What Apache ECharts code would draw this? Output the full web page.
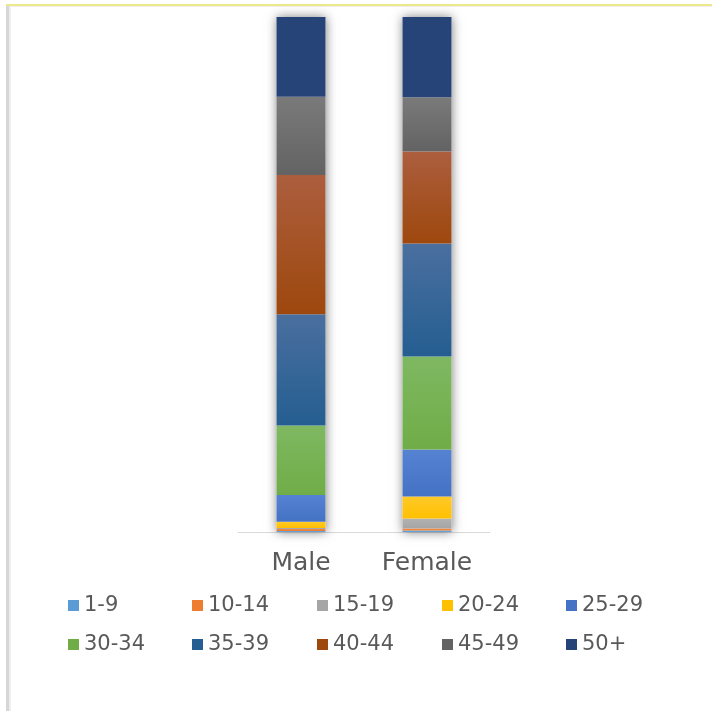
<!DOCTYPE html>
<html>
<head>
<meta charset="utf-8">
<script src="https://cdn.jsdelivr.net/npm/echarts@6/dist/echarts.min.js"></script>
<style>
  html, body { margin: 0; padding: 0; background: #ffffff; }
  #chart { width: 712px; height: 711px; }
</style>
</head>
<body>
<div id="chart"></div>
<script>
// Age-group share (%) by gender
const categories = ['Male', 'Female'];
const ageGroups = ['1-9', '10-14', '15-19', '20-24', '25-29', '30-34', '35-39', '40-44', '45-49', '50+'];
const maleShare   = [0.2, 0.4, 0.2, 1.2, 5.2, 13.5, 21.6, 27.0, 15.2, 15.5];
const femaleShare = [0.3, 0.4, 1.9, 4.3, 9.1, 18.1, 21.9, 17.9, 10.5, 15.6];

// base colour, lighter top tint for the column gradient
const baseColors = ['#5B9BD5', '#ED7D31', '#A5A5A5', '#FFC000', '#4472C4', '#70AD47', '#255E91', '#9E480E', '#636363', '#264478'];
const topColors  = ['#6FA8DC', '#F08A45', '#B2B2B2', '#FFC928', '#5682D2', '#7FB862', '#4A6F9F', '#AC5E3E', '#7A7A7A', '#264478'];

const textColor = '#595959';
const fontFamily = 'DejaVu Sans';

const totals = categories.map((_, i) => {
  const col = i === 0 ? maleShare : femaleShare;
  return col.reduce((a, b) => a + b, 0);
});

const series = [{
  // soft shadow behind each full column
  name: '__backing',
  type: 'bar',
  data: totals,
  barWidth: 49,
  silent: true,
  z: 1,
  itemStyle: { color: '#ffffff', shadowBlur: 10, shadowColor: 'rgba(0,0,0,0.5)' }
}];
ageGroups.forEach((g, k) => {
  series.push({
    name: g,
    type: 'bar',
    stack: 'share',
    barWidth: 49,
    barGap: '-100%',
    z: 2,
    data: [maleShare[k], femaleShare[k]],
    itemStyle: {
      color: new echarts.graphic.LinearGradient(0, 0, 0, 1, [
        { offset: 0, color: topColors[k] },
        { offset: 1, color: baseColors[k] }
      ])
    }
  });
});

// legend laid out as a 5 x 2 grid of fixed columns
const legendCols = [63, 187, 312, 437, 561];
const legendRows = [590, 629];
const legends = ageGroups.map((g, k) => ({
  icon: 'rect',
  itemWidth: 11,
  itemHeight: 11,
  itemGap: 0,
  left: legendCols[k % 5],
  top: legendRows[Math.floor(k / 5)],
  selectedMode: false,
  textStyle: { color: textColor, fontSize: 21, fontFamily: fontFamily },
  data: [{ name: g, itemStyle: { color: baseColors[k] } }]
}));

const chart = echarts.init(document.getElementById('chart'), null, { renderer: 'canvas' });
chart.setOption({
  backgroundColor: '#ffffff',
  animation: false,
  grid: { left: 238, right: 222, top: 17, bottom: 179 },
  xAxis: {
    type: 'category',
    data: categories,
    axisLine: { lineStyle: { color: '#D9D9D9', width: 1 } },
    axisTick: { show: false },
    axisLabel: { color: textColor, fontSize: 25, fontFamily: fontFamily, margin: 19 }
  },
  yAxis: {
    type: 'value',
    min: 0,
    max: 100,
    show: false,
    splitLine: { show: false }
  },
  legend: legends,
  graphic: [
    { type: 'rect', shape: { x: 6, y: 4, width: 706, height: 2 }, style: { fill: '#EDE98A' }, silent: true },
    { type: 'rect', shape: { x: 6, y: 6, width: 706, height: 1 }, style: { fill: '#EFEFEF' }, silent: true },
    { type: 'rect', shape: { x: 6, y: 6, width: 3, height: 705 }, style: { fill: '#D6D6D6' }, silent: true },
    { type: 'rect', shape: { x: 9, y: 6, width: 2, height: 705 }, style: { fill: '#EEEEEE' }, silent: true }
  ],
  series: series
});
</script>
</body>
</html>
